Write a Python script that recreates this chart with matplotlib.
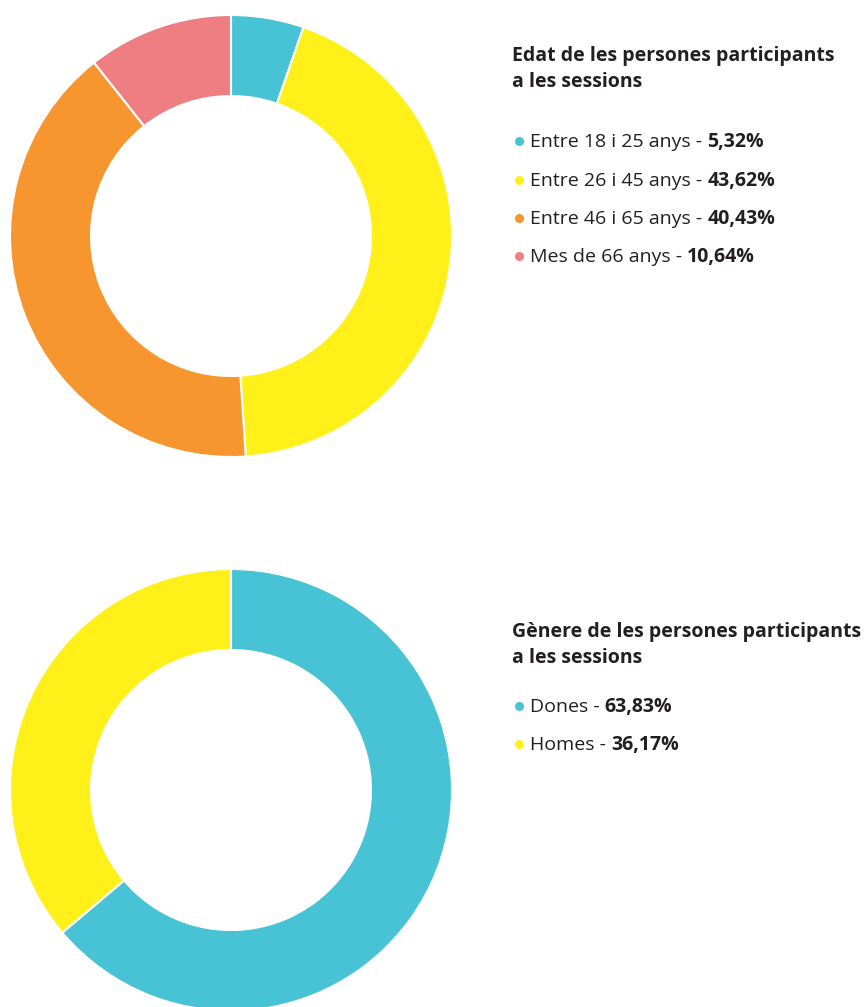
import matplotlib.pyplot as plt

# Dades
edat_labels = ["Entre 18 i 25 anys", "Entre 26 i 45 anys", "Entre 46 i 65 anys", "Mes de 66 anys"]
edat_vals = [5.32, 43.62, 40.43, 10.64]
edat_text = ["5,32%", "43,62%", "40,43%", "10,64%"]
edat_colors = ["#47C3D5", "#FFF01A", "#F7962F", "#EF7E82"]

genere_labels = ["Dones", "Homes"]
genere_vals = [63.83, 36.17]
genere_text = ["63,83%", "36,17%"]
genere_colors = ["#47C3D5", "#FFF01A"]

W, H = 866, 1007
txt_color = "#231F20"
plt.rcParams['font.family'] = ['Open Sans', 'DejaVu Sans']

fig = plt.figure(figsize=(W / 100, H / 100), dpi=100)
ax = fig.add_axes([0, 0, 1, 1])
ax.set_xlim(0, W)
ax.set_ylim(0, H)
ax.set_aspect('equal')
ax.axis('off')


def donut(vals, colors, cy):
    ax.pie(vals, colors=colors, center=(231, H - cy), radius=221,
           startangle=90, counterclock=False,
           wedgeprops=dict(width=81, edgecolor='white', linewidth=1.5))


def llegenda(title, labels, texts, colors, ty, ys):
    ax.text(512, H - ty, title, fontsize=14, fontweight='bold', color=txt_color,
            va='center', ha='left', linespacing=1.4)
    for lab, val, col, y in zip(labels, texts, colors, ys):
        ax.plot(519, H - y, 'o', color=col, markersize=6.5, markeredgewidth=0)
        t = ax.text(530, H - y - 6, lab + " - ", fontsize=14, color=txt_color,
                    va='baseline', ha='left')
        ax.annotate(val, xy=(1, H - y - 6), xycoords=(t, 'data'), fontsize=14,
                    fontweight='bold', color=txt_color, va='baseline', ha='left')


donut(edat_vals, edat_colors, 236)
donut(genere_vals, genere_colors, 790)
ax.set_xlim(0, W)
ax.set_ylim(0, H)

llegenda("Edat de les persones participants\na les sessions",
         edat_labels, edat_text, edat_colors, 69, [141, 180, 218, 256])
llegenda("Gènere de les persones participants\na les sessions",
         genere_labels, genere_text, genere_colors, 645, [706, 744])

fig.savefig("out.png", dpi=100, facecolor='white')
